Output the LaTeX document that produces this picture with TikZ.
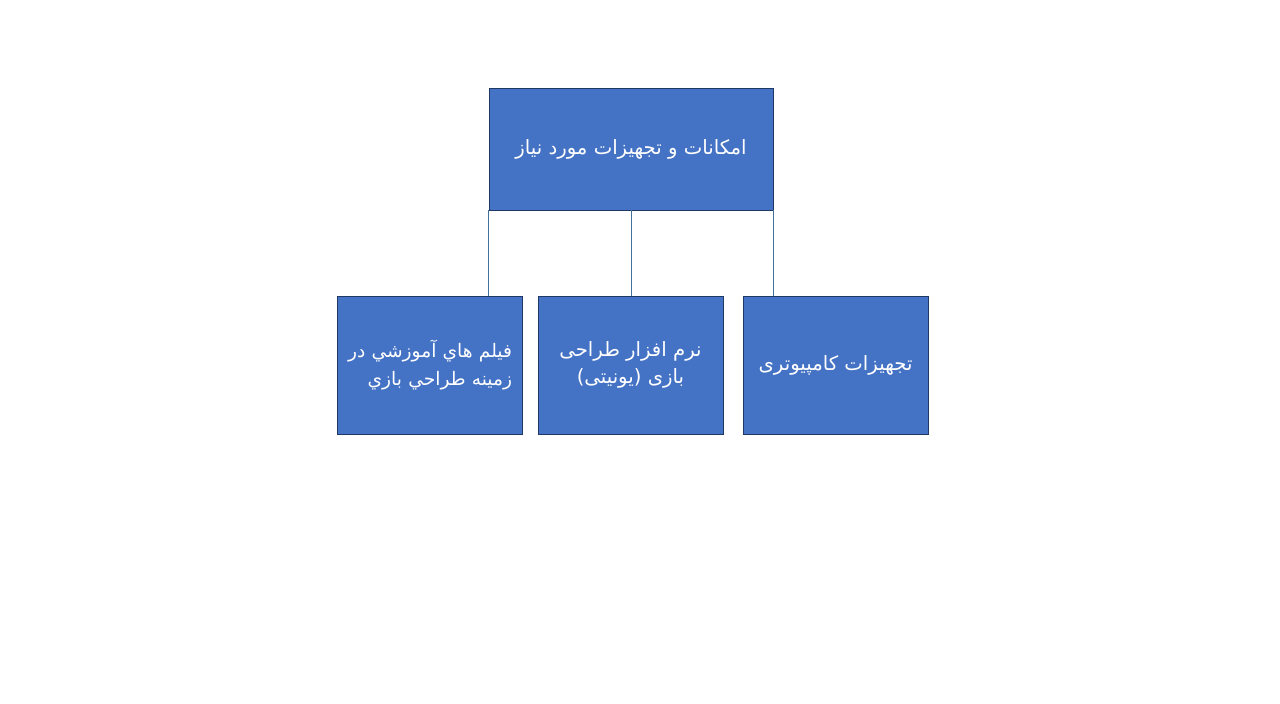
\documentclass[tikz,border=0pt]{standalone}
\usepackage{fontspec}
\newfontfamily\arabicfont[Script=Arabic]{DejaVu Sans}
\TeXXeTstate=1
\definecolor{boxfill}{HTML}{4472C4}
\definecolor{boxline}{HTML}{1F3864}
\definecolor{linkline}{HTML}{41719C}
\newcommand{\rl}[1]{\beginR #1\endR}
\tikzset{
  orgbox/.style={rectangle, draw=boxline, fill=boxfill, text=white, line width=0.4pt,
    inner sep=0pt, font=\arabicfont\fontsize{11.2}{15.8}\selectfont},
  childbox/.style={orgbox, minimum width=185*0.02cm, minimum height=138*0.02cm},
  link/.style={draw=linkline, line width=0.5pt}
}
\begin{document}
\begin{tikzpicture}[x=0.02cm, y=-0.02cm]
\useasboundingbox (0,0) rectangle (1280,703);
\node[orgbox, minimum width=284*0.02cm, minimum height=122*0.02cm] (top) at (631,149){\rl{امکانات و تجهیزات مورد نیاز}};
\node[childbox, text width=165*0.02cm, align=right, font=\arabicfont\fontsize{10.6}{15.8}\selectfont] (film) at (429.5,365){\rl{فيلم هاي آموزشي در}\\\rl{زمينه طراحي بازي}};
\node[childbox, align=center] (unity) at (630.5,365){\rl{نرم افزار طراحی}\\\rl{بازی (یونیتی)}};
\node[childbox] (pc) at (835.5,365){\rl{تجهیزات کامپیوتری}};
\draw[link](top.south west) -- (top.south west |- film.north);
\draw[link](top.south) -- (top.south |- unity.north);
\draw[link](top.south east) -- (top.south east |- pc.north);
\end{tikzpicture}
\end{document}
